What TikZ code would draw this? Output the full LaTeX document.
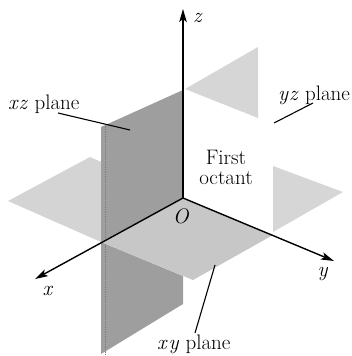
\documentclass[tikz,border=0pt]{standalone}
\usetikzlibrary{arrows.meta}
\begin{document}
\begin{tikzpicture}[x=1pt,y=-1pt,
  axis/.style={line width=1.4pt,-{Stealth[length=13pt,width=7.5pt,inset=3pt]}},
  leader/.style={line width=1.1pt},
  lbl/.style={font=\rmfamily\fontsize{21}{20}\selectfont, inner sep=0pt},
  sheet/.style={fill=black!38},
  planefront/.style={fill=black!22},
  planeleft/.style={fill=black!17},
  planeback/.style={fill=black!16},
  seam/.style={draw=black!50,line width=0.5pt,dash pattern=on 1.5pt off 1pt}]
\useasboundingbox (0,0) rectangle (352,356);
\coordinate (O) at (183,198);
% xy plane, part with y<0 (behind the xz sheet)
\fill[planeleft] (8,201) -- (90,157) -- (O) -- (101,242) -- cycle;
% xz plane, x<0, above the white yz wall
\fill[planeback] (185,89) -- (258,47) -- (258,118) -- cycle;
% xy plane, x<0, beyond the yz wall
\fill[planeback] (273,166) -- (343,192) -- (273,232) -- cycle;
% xz sheet, x>0
\fill[sheet] (101,127) -- (183,90) -- (O) -- (101,242) -- cycle;
\fill[sheet] (101,242) -- (183,276) -- (183,304) -- (101,354) -- cycle;
\draw[seam] (105,126) -- (105,354);
% xy plane, first quadrant
\fill[planefront] (O) -- (273,235) -- (193,280) -- (101,242) -- cycle;
% axes
\coordinate (xtip) at (35,279);
\coordinate (ytip) at (334,261);
\coordinate (ztip) at (183,9);
\draw[axis] (O) -- (xtip);
\draw[axis] (O) -- (ytip);
\draw[axis] (O) -- (ztip);
% axis labels
\node[lbl,anchor=base] (xl) at (48,295) {\textit{x}};
\node[lbl,anchor=base] (yl) at (323,276) {\textit{y}};
\node[lbl,anchor=base] (zl) at (198,23) {\textit{z}};
\node[lbl,anchor=base] (Ol) at (181,223) {\textit{O}};
% plane labels
\node[lbl,anchor=base west] (xzl) at (8,109) {\textit{x\kern1pt z} plane};
\node[lbl,anchor=base west] (yzl) at (278,100) {\textit{y\kern1pt z} plane};
\node[lbl,anchor=base west] (xyl) at (157,349) {\textit{x\kern2pt y} plane};
\node[lbl,anchor=base,align=center] (oct) at (226,184) {First\\octant};
% leaders
\coordinate (xzA) at (58,113);
\coordinate (xzB) at (130,130);
\coordinate (yzA) at (313,103);
\coordinate (yzB) at (274,123);
\coordinate (xyA) at (195,333);
\coordinate (xyB) at (215,265);
\draw[leader] (xzA) -- (xzB);
\draw[leader] (yzA) -- (yzB);
\draw[leader] (xyA) -- (xyB);
\end{tikzpicture}
\end{document}
